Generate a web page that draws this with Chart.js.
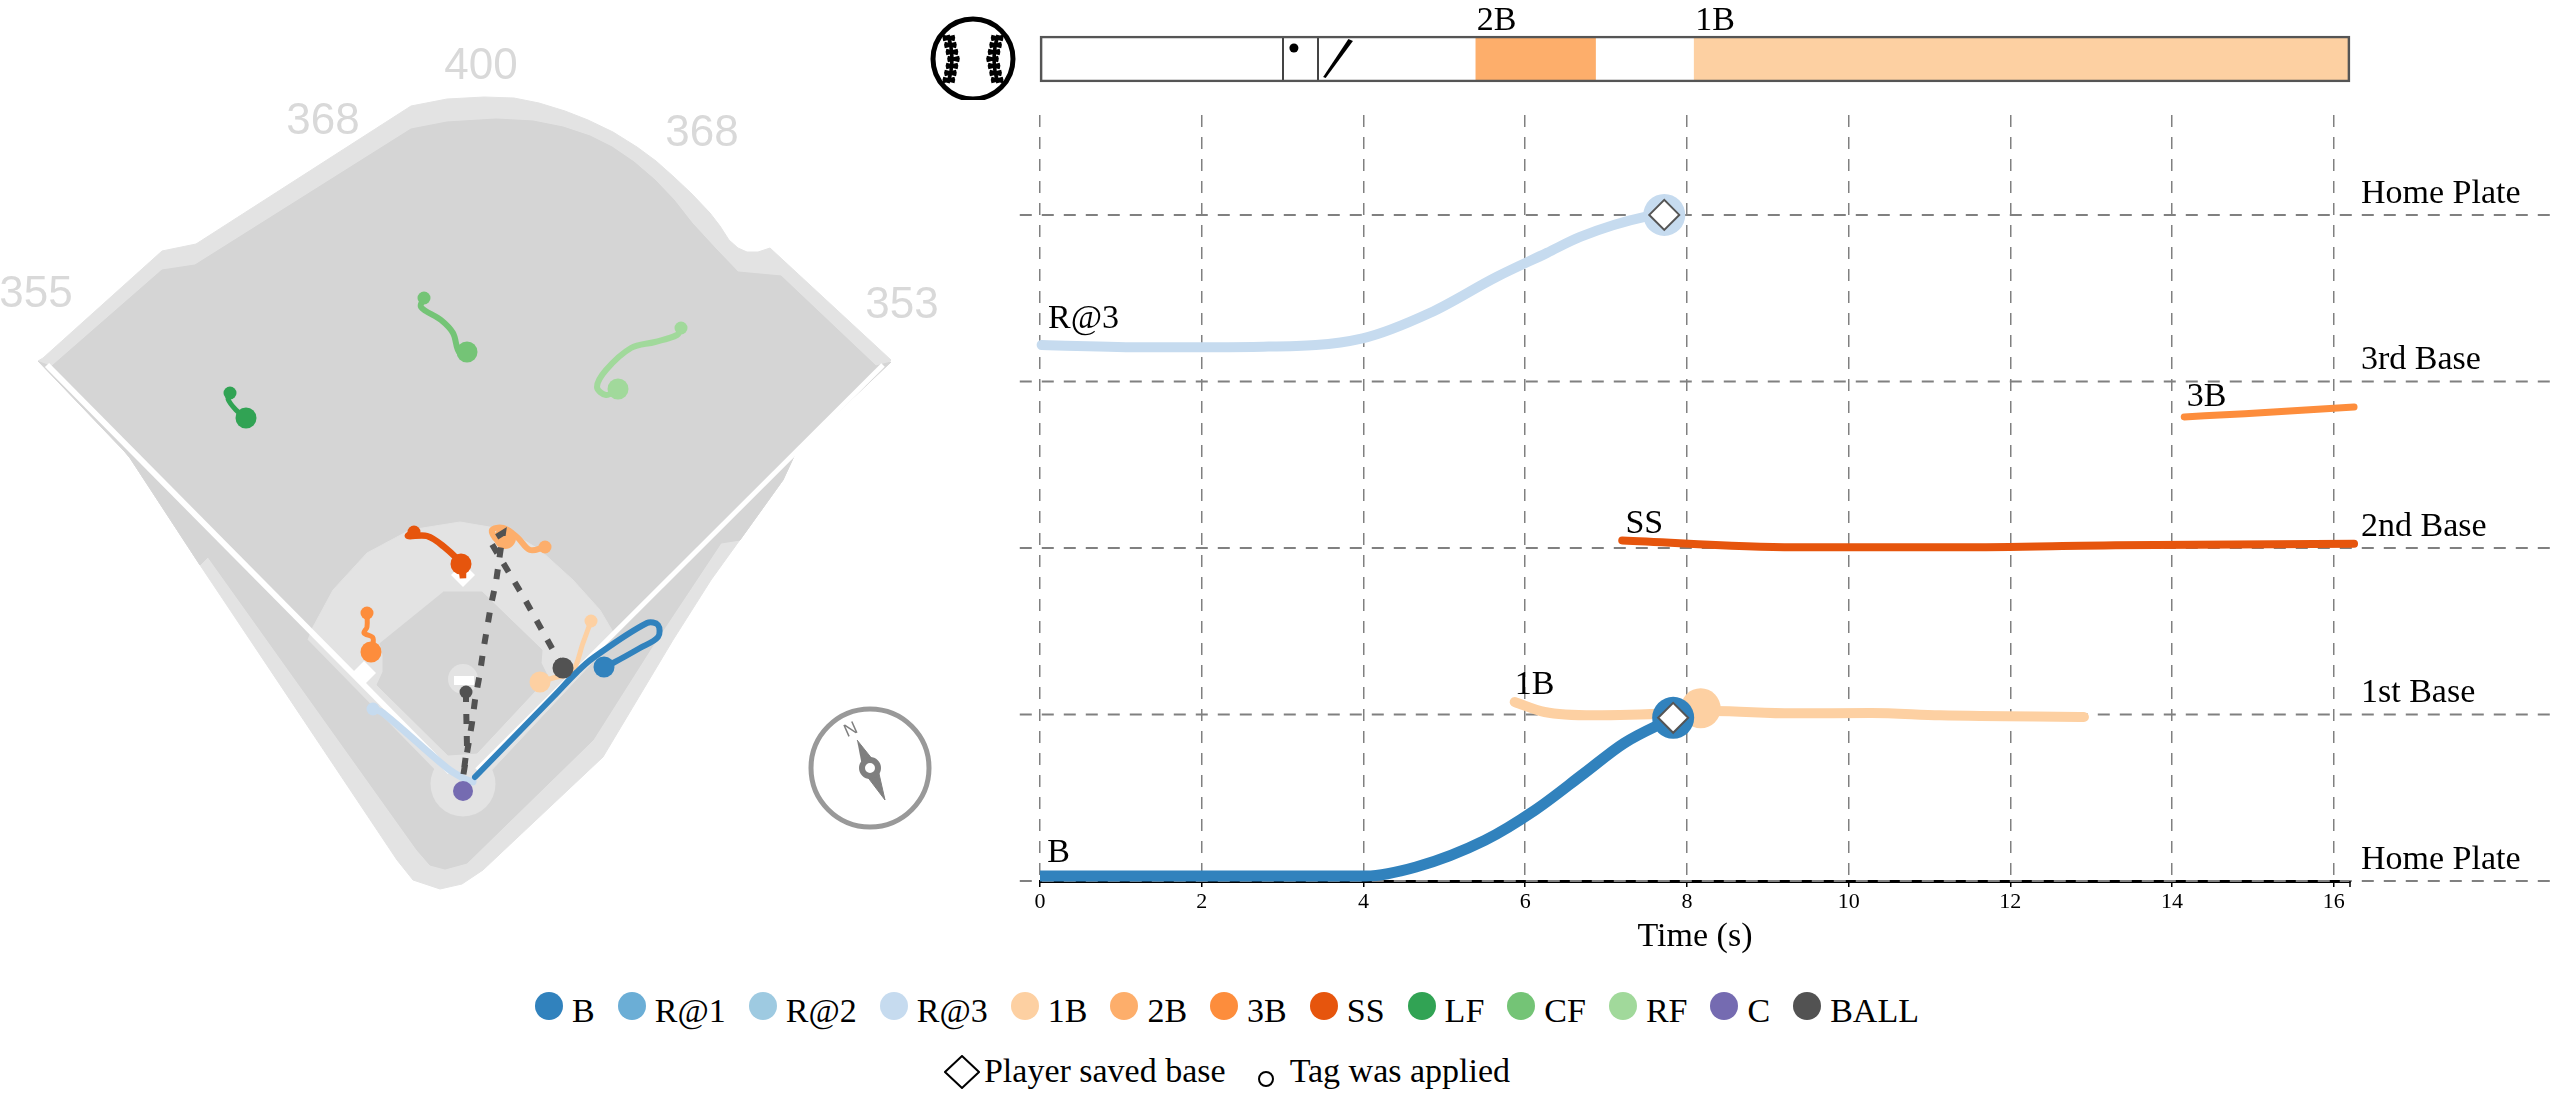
<!DOCTYPE html>
<html>
<head>
<meta charset="utf-8">
<title>Play breakdown</title>
<script src="https://cdn.jsdelivr.net/npm/chart.js@4"></script>
<style>
  html, body { margin: 0; padding: 0; background: #fff; width: 2552px; height: 1093px; overflow: hidden; }
  canvas { position: absolute; }
  #fieldChart { left: 0; top: 0; }
  #stripChart { left: 900px; top: 0; }
  #timeChart { left: 900px; top: 0; }
  .legend-row { position: absolute; left: 0; width: 2454px; display: flex; justify-content: center; align-items: flex-start;
    font: 34px/40px "Liberation Serif", serif; color: #000; white-space: nowrap; }
  #legend1 { top: 991px; }
  #legend2 { top: 1051px; }
  .dot { width: 28px; height: 28px; border-radius: 50%; margin: 1px 9px 0 23px; }
  .dot:first-child { margin-left: 0; }
  .open { width: 12px; height: 12px; border: 2px solid #000; border-radius: 50%; margin: 20px 16px 0 32px; }
  svg { margin: 4px 4px 0 0; }
</style>
</head>
<body>
<canvas id="fieldChart" width="1000" height="960"></canvas>
<canvas id="timeChart" width="1652" height="960"></canvas>
<canvas id="stripChart" width="1652" height="100"></canvas>
<div class="legend-row" id="legend1"></div>
<div class="legend-row" id="legend2"></div>
<script>
// legend
const legendNames = ['B', 'R@1', 'R@2', 'R@3', '1B', '2B', '3B', 'SS', 'LF', 'CF', 'RF', 'C', 'BALL'];
const legendColors = ['#3182bd', '#6baed6', '#9ecae1', '#c6dbef', '#fdd0a2', '#fdae6b', '#fd8d3c', '#e6550d', '#31a354', '#74c476', '#a1d99b', '#756bb1', '#525252'];

// field outlines
const fieldOuter = [[38,361],[43,358],[162,251],[196,244],[411,106],[447,99],[484,97],[514,98],[539,103],[565,111],[588,120],[613,132],[637,147],[656,161],[674,177],[692,194],[710,213],[720,226],[729,240],[738,248],[747,252],[758,252],[770,248],[891,360],[796,452],[783,480],[711,580],[673,640],[603,757],[483,870],[462,884],[440,889],[413,880],[397,860],[200,565],[130,458],[125,452]];
const fieldGrass = [[52,366],[162,270],[195,265],[411,129],[447,122],[496,119],[533,121],[563,127],[590,136],[612,147],[634,162],[655,180],[674,200],[692,223],[715,248],[738,272],[781,276],[876,366],[891,362],[796,452],[783,480],[740,540],[721,543],[650,650],[593,740],[467,863],[445,869],[430,865],[417,850],[208,557],[200,565],[130,458],[125,452],[38,361]];
const infieldDirt = [[308,640],[313,627],[333,590],[367,553],[410,530],[460,522],[507,530],[540,550],[573,580],[600,610],[613,632],[590,665],[487,775],[445,780]];
const infieldGrass = [[443,592],[482,592],[542,650],[541,663],[548,677],[477,753],[448,755],[377,685],[383,672],[383,655],[380,643]];
const leftFoulLine = [[47,365],[450,772]];
const rightFoulLine = [[883,365],[477,770]];
const moundCircle = [[463,679]];
const homeCircle = [[463,784]];
const pitchersRubber = [[454,680.5],[474,680.5]];
const baseMarks = [[364,673],[463,575]];
const fieldNames = ['355', '368', '400', '368', '353'];
const fieldNameSpots = [[36,295],[323,122],[481,67],[702,134],[902,306]];

// player tracks on the field
const lfTrack = [[230,393],[228,399],[236,410],[246,418]];
const cfTrack = [[424,298],[421,307],[441,320],[453,333],[459,352],[467,352]];
const rfTrack = [[681,328],[677,335],[655,342],[631,348],[606,370],[597,387],[606,395],[618,389]];
const ssTrack = [[414,532],[408,536],[427,536],[443,546],[461,564],[463,578],[461,564]];
const secondTrack = [[545,547],[530,550],[517,537],[503,528],[492,530],[497,540],[505,538]];
const thirdTrack = [[367,613],[367,627],[364,633],[373,638],[371,652]];
const firstTrack = [[591,621],[583,643],[572,672],[553,678],[540,682]];
const r3Track = [[373,709],[383,713],[447,768],[463,778],[473,782]];
const batterTrack = [[475,777],[553,697],[577,672],[593,658],[647,623],[658,625],[658,637],[640,648],[613,663],[604,667]];
const catcherSpot = [[463,791]];
const ballTrack = [[466,692],[466,700],[467,747],[463,777],[472,723],[475,700],[480,673],[483,652],[491,605],[496,582],[503,533],[490,541],[523,596],[563,668]];

// compass
const compassRing = [[870,768]];
const compassNeedle = [[857,740],[877,765],[885,800],[863,771]];

// timeline
const timeTicks = [0, 2, 4, 6, 8, 10, 12, 14, 16];
const timeEnd = 16.2;
const baseValues = [0, 1, 2, 3, 4];
const baseLabels = ['Home Plate', '1st Base', '2nd Base', '3rd Base', 'Home Plate'];
const baseLineFrom = -0.25;
const baseLineTo = 18.7;

const r3Times = [0.02, 1.32, 2.76, 3.99, 4.82, 5.65, 6.27, 6.68, 7.48, 7.70];
const r3Bases = [3.219, 3.205, 3.209, 3.259, 3.411, 3.629, 3.772, 3.868, 3.988, 4.0];
const batterTimes = [0, 2, 4.03, 4.65, 5.5, 6.12, 6.73, 7.22, 7.83];
const batterBases = [0.03, 0.03, 0.03, 0.084, 0.244, 0.425, 0.647, 0.827, 0.98];
const firstTimes = [5.87, 6.24, 6.85, 7.83, 8.32, 9.3, 10.28, 11.13, 12.91];
const firstBases = [1.075, 1.015, 0.995, 1.007, 1.021, 1.007, 1.009, 0.995, 0.985];
const ssTimes = [7.2, 9.33, 11.35, 13.3, 16.25];
const ssBases = [2.045, 2.004, 2.004, 2.016, 2.025];
const thirdTimes = [14.15, 14.9, 16.25];
const thirdBases = [2.787, 2.806, 2.846];
const runnerLabels = ['R@3', 'B', '1B', 'SS', '3B'];
const runnerLabelTimes = [0.1, 0.09, 5.87, 7.24, 14.18];
const runnerLabelBases = [3.32, 0.115, 1.12, 2.09, 2.855];

// pitches and events in the strip
const pitchTicks = [3.0, 3.44];
const pitchDotTime = 3.14;
const batTopTime = 3.845;
const batBottomTime = 3.52;
const eventStarts = [5.39, 8.09];
const eventEnds = [6.87, 16.2];
const eventLabels = ['2B', '1B'];
const eventColors = ['#fdae6b', '#fdd0a2'];

const serif = '"Liberation Serif", serif';

document.getElementById('legend1').innerHTML = legendNames
  .map((name, i) => `<span class="dot" style="background:${legendColors[i]}"></span><span>${name}</span>`)
  .join('');
document.getElementById('legend2').innerHTML = `
  <svg width="36" height="34" viewBox="0 0 36 34"><path d="M18 1 L35 17 L18 33 L1 17 Z" fill="#fff" stroke="#000" stroke-width="2"/></svg>
  <span>Player saved base</span><span class="open"></span><span>Tag was applied</span>`;

function polygon(points, color, tension) {
  return { data: points, backgroundColor: color, borderColor: color, borderWidth: 1, fill: 'shape', pointRadius: 0, tension: tension || 0 };
}

function track(points, color, width, smallRadius, bigRadius) {
  const radii = points.map(() => 0);
  radii[0] = smallRadius;
  radii[radii.length - 1] = bigRadius;
  return {
    data: points, borderColor: color, backgroundColor: color, borderWidth: width, tension: 0.35,
    borderCapStyle: 'round', pointRadius: radii, pointBorderWidth: 0,
  };
}

function dots(points, color, radius, extra) {
  return Object.assign({ data: points, showLine: false, backgroundColor: color, borderColor: color, pointRadius: radius, pointBorderWidth: 0 }, extra);
}

const fieldLayers = [
  polygon(fieldOuter, '#e3e3e3'),
  polygon(fieldGrass, '#d5d5d5'),
  polygon(infieldDirt, '#e3e3e3'),
  dots(homeCircle, '#e3e3e3', 32.5),
  polygon(infieldGrass, '#d5d5d5'),
  dots(moundCircle, '#e3e3e3', 15),
  { data: pitchersRubber, borderColor: '#fff', borderWidth: 9, pointRadius: 0 },
  { data: leftFoulLine, borderColor: '#fff', borderWidth: 6, pointRadius: 0 },
  { data: rightFoulLine, borderColor: '#fff', borderWidth: 5, pointRadius: 0 },
  dots(baseMarks, '#fff', 12, { pointStyle: 'rectRot' }),
  track(lfTrack, '#31a354', 5, 6.5, 10.5),
  track(cfTrack, '#74c476', 6, 6.5, 10.5),
  track(rfTrack, '#a1d99b', 6, 6.5, 10.5),
  track(firstTrack, '#fdd0a2', 5, 6.5, 10.5),
  track(secondTrack, '#fdae6b', 6, 6.5, 11),
  track(r3Track, '#c6dbef', 7, 6.5, 0),
  track(thirdTrack, '#fd8d3c', 5, 6.5, 10.5),
  track(ssTrack, '#e6550d', 6.5, 6.5, 10.5),
  track(batterTrack, '#3182bd', 6, 0, 10.5),
  dots(catcherSpot, '#756bb1', 10),
  Object.assign(track(ballTrack, '#525252', 6, 6.5, 10.5), { tension: 0, borderDash: [10, 12], borderCapStyle: 'butt' }),
  dots(compassRing, 'transparent', 59, { pointBorderWidth: 5, pointBorderColor: '#999' }),
  polygon(compassNeedle, '#7f7f7f'),
  dots(compassRing, '#fff', 8, { pointBorderWidth: 6, pointBorderColor: '#7f7f7f' }),
];
fieldLayers.forEach((layer, i) => { layer.order = fieldLayers.length - i; });

const fieldText = {
  id: 'fieldText',
  afterDatasetsDraw(chart) {
    const { ctx, scales } = chart;
    ctx.save();
    ctx.font = '44px "Liberation Sans", sans-serif';
    ctx.fillStyle = '#d9d9d9';
    ctx.textAlign = 'center';
    ctx.textBaseline = 'middle';
    fieldNames.forEach((name, i) => {
      ctx.fillText(name, scales.x.getPixelForValue(fieldNameSpots[i][0]), scales.y.getPixelForValue(fieldNameSpots[i][1]));
    });
    ctx.translate(scales.x.getPixelForValue(851), scales.y.getPixelForValue(730));
    ctx.rotate(-0.42);
    ctx.font = '18px "Liberation Sans", sans-serif';
    ctx.fillStyle = '#7f7f7f';
    ctx.fillText('N', 0, 0);
    ctx.restore();
  },
};

new Chart(document.getElementById('fieldChart'), {
  type: 'line',
  data: { datasets: fieldLayers },
  options: {
    responsive: false,
    animation: false,
    layout: { padding: 0, autoPadding: false },
    plugins: { legend: { display: false }, tooltip: { enabled: false } },
    scales: {
      x: { type: 'linear', min: 0, max: 1000, display: false },
      y: { type: 'linear', min: 0, max: 960, reverse: true, display: false },
    },
  },
  plugins: [fieldText],
});

function zipSeries(xs, ys) {
  return xs.map((x, i) => ({ x, y: ys[i] }));
}

function runner(times, bases, color, width, cap) {
  return {
    data: zipSeries(times, bases), borderColor: color, borderWidth: width, cubicInterpolationMode: 'monotone',
    pointRadius: 0, borderCapStyle: cap || 'round', clip: false,
  };
}

const timeLayers = baseValues.map((v) => ({
  data: [{ x: baseLineFrom, y: v }, { x: baseLineTo, y: v }],
  borderColor: '#808080', borderWidth: 2, borderDash: [12, 10], pointRadius: 0, clip: false,
}));
timeLayers.push(
  { data: [{ x: timeEnd, y: 0 }, { x: timeEnd, y: -0.036 }], borderColor: '#000', borderWidth: 1.5, pointRadius: 0, clip: false },
  runner(r3Times, r3Bases, '#c6dbef', 10),
  dots([{ x: 7.72, y: 4 }], '#c6dbef', 21, { clip: false }),
  runner(firstTimes, firstBases, '#fdd0a2', 10),
  dots([{ x: 8.17, y: 1.037 }], '#fdd0a2', 20, { clip: false }),
  runner(ssTimes, ssBases, '#e6550d', 8),
  runner(thirdTimes, thirdBases, '#fd8d3c', 7),
  runner(batterTimes, batterBases, '#3182bd', 11, 'butt'),
  dots([{ x: 7.83, y: 0.98 }], '#3182bd', 21, { clip: false }),
  dots([{ x: 7.72, y: 4 }, { x: 7.83, y: 0.98 }], '#fff', 15, { pointStyle: 'rectRot', pointBorderWidth: 2, pointBorderColor: '#555', clip: false })
);
timeLayers.forEach((layer, i) => { layer.order = timeLayers.length - i; });

const timeText = {
  id: 'timeText',
  afterDatasetsDraw(chart) {
    const { ctx, scales } = chart;
    ctx.save();
    ctx.font = '34px ' + serif;
    ctx.fillStyle = '#000';
    ctx.textBaseline = 'alphabetic';
    baseValues.forEach((v, i) => {
      ctx.fillText(baseLabels[i], scales.x.getPixelForValue(16.2) + 11, scales.y.getPixelForValue(v) - 12);
    });
    runnerLabels.forEach((name, i) => {
      ctx.fillText(name, scales.x.getPixelForValue(runnerLabelTimes[i]), scales.y.getPixelForValue(runnerLabelBases[i]));
    });
    ctx.restore();
  },
};

new Chart(document.getElementById('timeChart'), {
  type: 'line',
  data: { datasets: timeLayers },
  options: {
    responsive: false,
    animation: false,
    layout: { padding: { left: 140, right: 202, top: 115 }, autoPadding: false },
    plugins: { legend: { display: false }, tooltip: { enabled: false } },
    scales: {
      x: {
        type: 'linear',
        min: 0,
        max: timeEnd,
        afterBuildTicks(scale) { scale.ticks = timeTicks.map((value) => ({ value })); },
        afterFit(scale) { scale.height = 79; },
        grid: { color: '#808080', lineWidth: 1.5, tickColor: '#000', tickLength: 6, tickWidth: 1.5, drawOnChartArea: true },
        border: { display: true, color: '#000', width: 3, dash: [12, 10] },
        ticks: { color: '#000', font: { family: serif, size: 22 }, padding: 2, maxRotation: 0, autoSkip: false },
        title: { display: true, text: 'Time (s)', color: '#000', font: { family: serif, size: 34 }, padding: { top: 0, bottom: 3 } },
      },
      y: { type: 'linear', min: 0, max: 4.6, display: false },
    },
  },
  plugins: [timeText],
});

const stripText = {
  id: 'stripText',
  afterDatasetsDraw(chart) {
    const { ctx, scales } = chart;
    const x = (t) => scales.x.getPixelForValue(t);
    ctx.save();
    ctx.fillStyle = '#000';
    ctx.font = '34px ' + serif;
    eventLabels.forEach((name, i) => ctx.fillText(name, x(eventStarts[i]) + 1, 30));

    // pitch marks
    ctx.beginPath();
    ctx.arc(x(pitchDotTime), 48, 4.5, 0, Math.PI * 2);
    ctx.fill();
    ctx.beginPath();
    ctx.moveTo(x(batTopTime) - 2.5, 39);
    ctx.lineTo(x(batTopTime) + 2, 41);
    ctx.lineTo(x(batBottomTime) + 1, 78);
    ctx.lineTo(x(batBottomTime) - 1.5, 77);
    ctx.closePath();
    ctx.fill();

    // baseball icon
    ctx.translate(73, 59);
    ctx.strokeStyle = '#000';
    ctx.lineWidth = 5;
    ctx.beginPath();
    ctx.arc(0, 0, 40, 0, Math.PI * 2);
    ctx.stroke();
    [-1, 1].forEach((side) => {
      ctx.lineWidth = 3.5;
      ctx.beginPath();
      ctx.moveTo(side * 25, -24);
      ctx.quadraticCurveTo(side * 17, 0, side * 25, 24);
      ctx.stroke();
      ctx.lineWidth = 3.5;
      [-21, -14, -7, 0, 7, 14, 21].forEach((y) => {
        const cx = side * (19.5 + Math.abs(y) * 0.22);
        ctx.beginPath();
        ctx.moveTo(cx - 6, y - 1.5);
        ctx.lineTo(cx + 6, y + 1.5);
        ctx.moveTo(cx - 6, y + 1.5);
        ctx.lineTo(cx + 6, y - 1.5);
        ctx.stroke();
      });
    });
    ctx.restore();
  },
};

new Chart(document.getElementById('stripChart'), {
  type: 'bar',
  data: {
    labels: ['play'],
    datasets: [
      { data: [[0, timeEnd]], backgroundColor: 'transparent', borderColor: '#555', borderWidth: 2, borderSkipped: false, clip: false, order: 1 },
      { data: [[eventStarts[0], eventEnds[0]]], backgroundColor: eventColors[0], order: 2 },
      { data: [[eventStarts[1], eventEnds[1]]], backgroundColor: eventColors[1], order: 3 },
    ],
  },
  options: {
    indexAxis: 'y',
    responsive: false,
    animation: false,
    layout: { padding: { left: 140, right: 202, top: 36, bottom: 18 } },
    plugins: { legend: { display: false }, tooltip: { enabled: false } },
    datasets: { bar: { grouped: false, barPercentage: 1, categoryPercentage: 1 } },
    scales: {
      x: {
        type: 'linear',
        min: 0,
        max: timeEnd,
        afterBuildTicks(scale) { scale.ticks = pitchTicks.map((value) => ({ value })); },
        afterFit(scale) { scale.height = 0; },
        grid: { color: '#444', lineWidth: 2, drawTicks: false },
        border: { display: false },
        ticks: { display: false },
      },
      y: { display: false },
    },
  },
  plugins: [stripText],
});
</script>
</body>
</html>
